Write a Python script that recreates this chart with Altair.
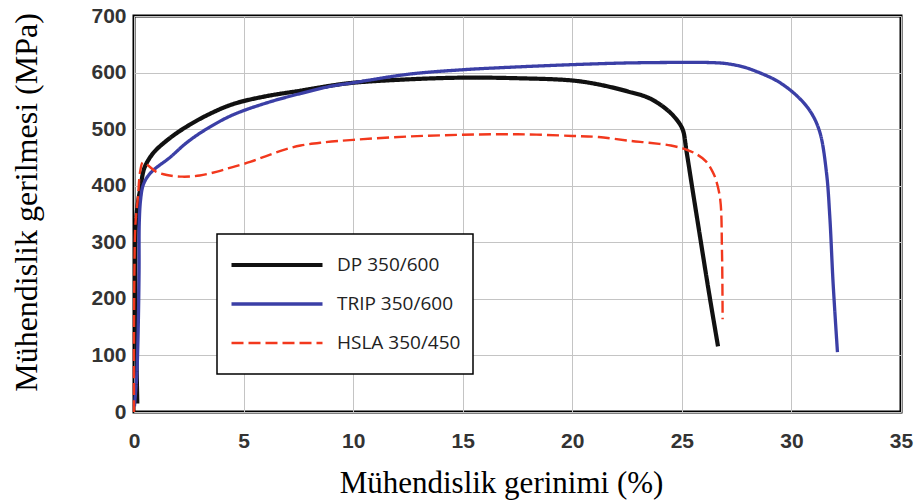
import altair as alt
import pandas as pd

series = ["DP 350/600", "TRIP 350/600", "HSLA 350/450"]
colors = ["#111111", "#3b3fa6", "#f2381d"]
widths = [4.2, 2.4, 3.2]
dashes = [[1, 0], [1, 0], [12, 5]]

x_ticks = [0, 5, 10, 15, 20, 25, 30, 35]
y_ticks = [0, 100, 200, 300, 400, 500, 600, 700]

dp_x = [0.15, 0.1, 0.07, 0.06, 0.09, 0.18, 0.3, 0.46, 0.73, 1.0, 1.5, 2.1, 3.2, 4.5, 6.0,
        7.6, 9.0, 10.0, 12.5, 15.0, 17.5, 20.0, 21.2, 22.5, 23.5, 24.3, 24.8, 25.05,
        25.2, 25.5, 25.8, 26.2, 26.65]
dp_y = [15, 120, 200, 260, 334, 370, 397, 430, 450, 463, 480, 497, 522, 544, 558,
        568, 577, 582, 588, 591, 590, 586, 579, 567, 555, 535, 515, 498,
        464, 390, 317, 220, 116]

trip_x = [0.02, 0.12, 0.18, 0.23, 0.24, 0.3, 0.41, 0.6, 0.9, 1.64, 2.4, 3.3, 4.5, 6.1,
          7.6, 9.0, 10.0, 12.5, 15.0, 17.5, 20.0, 22.5, 25.0, 26.0, 27.0, 27.8, 28.4,
          29.4, 30.3, 30.9, 31.3, 31.6, 31.75, 31.9, 32.1]
trip_y = [10, 60, 127, 245, 334, 375, 400, 415, 428, 450, 476, 500, 525, 547,
          563, 576, 582, 597, 605, 610, 614, 617, 618, 618, 616, 610, 602,
          584, 557, 529, 494, 423, 346, 229, 106]

hsla_x = [0.0, 0.0, 0.02, 0.05, 0.1, 0.18, 0.28, 0.4, 0.6, 1.0, 1.5, 2.2, 3.0, 3.8,
          4.5, 5.3, 6.0, 6.8, 7.6, 8.5, 10.0, 12.5, 15.0, 17.5, 20.0, 21.2, 22.7, 23.5,
          24.5, 25.2, 25.7, 26.1, 26.4, 26.55, 26.75, 26.83, 26.86]
hsla_y = [0, 130, 250, 320, 350, 380, 425, 441, 437, 425, 419, 416, 418, 425,
          433, 442, 452, 463, 471, 476, 481, 487, 490, 491, 488, 486, 479, 476,
          471, 464, 455, 443, 425, 411, 376, 287, 164]

rows = []
for name, xs, ys in [(series[0], dp_x, dp_y), (series[1], trip_x, trip_y), (series[2], hsla_x, hsla_y)]:
    for i, (xv, yv) in enumerate(zip(xs, ys)):
        rows.append({"series": name, "strain": xv, "stress": yv, "i": i})
df = pd.DataFrame(rows)

legend = alt.Legend(
    title=None, orient="none", legendX=83, legendY=218,
    padding=12, strokeColor="black", fillColor="white",
    symbolSize=8281, symbolType="stroke", clipHeight=38, rowPadding=1,
    labelFont="Open Sans", labelFontSize=19, labelColor="#222222", labelOffset=12,
    labelLimit=300,
)

chart = alt.Chart(df).mark_line(strokeJoin="round", strokeCap="butt", interpolate="catmull-rom").encode(
    x=alt.X("strain:Q", scale=alt.Scale(domain=[0, 35], nice=False),
            axis=alt.Axis(values=x_ticks, title="Mühendislik gerinimi (%)", labelFlush=False,
                          labelPadding=18, titleBaseline="alphabetic", titleY=80,
                          titleX=367, titleAlign="center")),
    y=alt.Y("stress:Q", scale=alt.Scale(domain=[0, 700], nice=False),
            axis=alt.Axis(values=y_ticks, title="Mühendislik gerilmesi (MPa)", labelPadding=8,
                          titleBaseline="alphabetic", titleX=-98, titleY=186,
                          titleAngle=-90, titleAlign="center", titleFontSize=32)),
    color=alt.Color("series:N", scale=alt.Scale(domain=series, range=colors), legend=legend),
    strokeDash=alt.StrokeDash("series:N", scale=alt.Scale(domain=series, range=dashes), legend=legend),
    strokeWidth=alt.StrokeWidth("series:N", scale=alt.Scale(domain=series, range=widths), legend=legend),
    order=alt.Order("i:Q"),
).properties(
    width=767, height=396,
    autosize=alt.AutoSizeParams(type="none"),
    padding={"left": 134, "top": 16, "right": 18, "bottom": 91},
    background="white",
).configure_view(
    stroke="black", strokeWidth=3
).configure_axis(
    grid=True, gridColor="#c4c4c4", gridWidth=1, domain=False, ticks=False,
    labelFont="Liberation Sans", labelFontWeight="bold", labelFontSize=21, labelColor="#333333",
    titleFont="Liberation Serif", titleFontWeight="normal", titleFontSize=31, titleColor="black",
).configure_legend(
    strokeWidth=1.5
)

chart.save("out.html", embed_options={"renderer": "svg", "actions": False})
